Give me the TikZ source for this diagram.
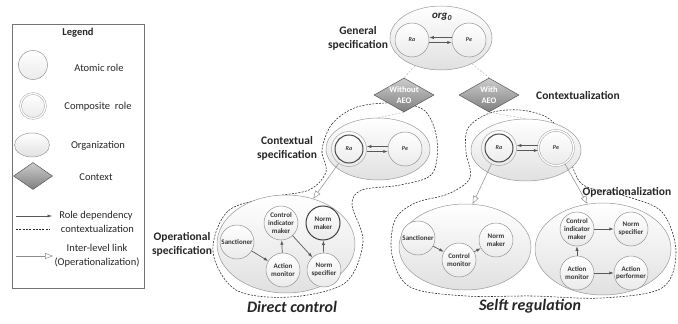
\documentclass[tikz,border=0pt]{standalone}
\usepackage{fontspec}
\setmainfont{Carlito}
\usetikzlibrary{shapes.geometric,arrows.meta}
\begin{document}
\begin{tikzpicture}[x=1pt,y=-1pt]
\tikzset{
 role/.style={circle, draw=black!42, line width=0.5pt, top color=white, bottom color=black!8, minimum size=34pt, inner sep=0pt, font=\fontsize{7}{7.6}\selectfont\bfseries, text=black!78, align=center},
 crole/.style={role, minimum size=35pt, double=white, double distance=1.3pt, draw=black!35},
 drole/.style={role, draw=black!75, line width=1pt},
 darkring/.style={draw=black!72, line width=1pt},
 small/.style={font=\fontsize{6}{6}\selectfont\bfseries\itshape},
 orgell/.style={ellipse, draw=black!40, line width=0.5pt, top color=white, bottom color=black!12, inner sep=0pt},
 ctx/.style={diamond, draw=black!65, line width=0.5pt, top color=black!20, bottom color=black!50, minimum width=60pt, minimum height=34pt, inner sep=0pt},
 ctxtext/.style={font=\fontsize{8.5}{10.5}\selectfont\bfseries, text=white, align=center},
 dep/.style={-{Latex[length=4.5pt,width=3.2pt]}, draw=black!65, line width=0.7pt},
 inter/.style={-{Triangle[open,length=8pt,width=6pt]}, draw=black!45, line width=0.5pt},
 ctxline/.style={dash pattern=on 2pt off 1.3pt, draw=black!85, line width=0.55pt},
 gline/.style={draw=black!30, dash pattern=on 2pt off 1.5pt, line width=0.45pt},
 lbl/.style={font=\fontsize{11.5}{13.8}\selectfont\bfseries, text=black!85, align=center},
 ttl/.style={font=\fontsize{16}{18}\selectfont\bfseries\itshape, text=black!85},
 leg/.style={font=\fontsize{10.5}{14.5}\selectfont, text=black!85, align=center},
}
\useasboundingbox (0,0) rectangle (678,324);

% ---------------- Legend ----------------
\draw[draw=black!55, line width=0.6pt] (12,24) rectangle (144,288);
\node[font=\fontsize{10.5}{12}\selectfont\bfseries, text=black!85] (legt) at (78,33) {Legend};
\node[role, minimum size=29pt] (lat) at (33,65) {};
\node[leg] (latt) at (99,68) {Atomic role};
\node[crole, minimum size=25pt] (lco) at (33,106) {};
\node[leg] (lcot) at (98,107) {Composite\ \ role};
\node[orgell, minimum width=35pt, minimum height=24pt] (lor) at (32,145) {};
\node[leg] (lort) at (98,146) {Organization};
\node[ctx, minimum width=39pt, minimum height=27pt] (lcx) at (33,176) {};
\node[leg] (lcxt) at (96,177) {Context};
\coordinate (la1) at (16,216); \coordinate (lb1) at (52,216);
\draw[dep, line width=0.5pt] (la1) -- (lb1);
\node[leg] (ldep) at (96,216) {Role dependency};
\coordinate (la2) at (16,229); \coordinate (lb2) at (50,229);
\draw[ctxline] (la2) -- (lb2);
\node[leg] (lctx) at (97.5,229) {contextualization};
\coordinate (la3) at (16,256); \coordinate (lb3) at (53,256);
\draw[inter] (la3) -- (lb3);
\node[leg] (lint) at (97,255.5) {Inter-level link\\(Operationalization)};

% ---------------- contextualization blobs ----------------
\draw[ctxline] plot[smooth cycle, tension=0.55] coordinates {
 (322,150) (332,124) (357,107) (396,103) (425,111) (437,140) (432,174) (400,185) (362,190)
 (352,205) (363,242) (345,283) (290,297) (236,290) (213,252) (228,211) (272,197) (309,190) (326,172)};
\draw[ctxline] plot[smooth cycle, tension=0.55] coordinates {
 (468,128) (490,113) (520,110) (548,118) (566,140) (573,168) (585,186) (625,196) (662,212)
 (676,252) (662,288) (602,298) (532,296) (466,296) (410,287) (392,255) (395,220) (415,203)
 (448,194) (470,178) (466,152)};

% ---------------- General specification ----------------
\node[orgell, minimum width=102pt, minimum height=64pt] (org0) at (441,38) {};
\node[font=\fontsize{11}{12}\selectfont\bfseries\itshape, text=black!85] (orgt) at (442,17) {org\textsubscript{0}};
\node[role, small] (ra0) at (412,40) {Ra};
\node[role, small] (pe0) at (469,40) {Pe};
\draw[dep] ([yshift=2.5pt]pe0.west) -- ([yshift=2.5pt]ra0.east);
\draw[dep] ([yshift=-2.5pt]ra0.east) -- ([yshift=-2.5pt]pe0.west);
\node[lbl] (gs) at (358,38) {General\\specification};

% ---------------- contexts ----------------
\node[ctx] (d1) at (404,95) {};
\node[ctxtext] (d1t) at (d1) {Without\\AEO};
\node[ctx] (d2) at (489,95) {};
\node[ctxtext] (d2t) at (d2) {With\\AEO};
\draw[gline] (org0) -- (d1.north);
\draw[gline] (org0) -- (d2.north);
\node[lbl] (ctxz) at (578,95) {Contextualization};

% ---------------- Contextual specification (left) ----------------
\node[orgell, minimum width=104pt, minimum height=62pt] (c1) at (378,149) {};
\draw[gline] (d1.south) -- (c1.north);
\node[crole, small, double=none, draw=black!35] (ra1) at (349,149) {};
\draw[darkring] (ra1.center) circle[radius=14pt];
\node[small, text=black!78] (ra1t) at (ra1) {Ra};
\node[role, small] (pe1) at (405,149) {Pe};
\draw[dep] ([yshift=2.5pt]pe1.west) -- ([yshift=2.5pt]ra1.east);
\draw[dep] ([yshift=-2.5pt]ra1.east) -- ([yshift=-2.5pt]pe1.west);
\node[lbl] (cs) at (287,148.5) {Contextual\\specification};

% ---------------- Contextual (right) ----------------
\node[orgell, minimum width=110pt, minimum height=62pt] (c2) at (526,150) {};
\draw[gline] (d2.south) -- (c2.north);
\node[crole, small, double=none, draw=black!35] (ra2) at (499,148) {};
\draw[darkring] (ra2.center) circle[radius=14pt];
\node[small, text=black!78] (ra2t) at (ra2) {Ra};
\node[crole, small] (pe2) at (556,148) {Pe};
\draw[dep] ([yshift=2.5pt]pe2.west) -- ([yshift=2.5pt]ra2.east);
\draw[dep] ([yshift=-2.5pt]ra2.east) -- ([yshift=-2.5pt]pe2.west);
\node[lbl] (opz) at (627,192) {Operationalization};

% ---------------- Direct control ----------------
\node[orgell, minimum width=138pt, minimum height=98pt] (dc) at (286,244) {};
\node[role] (san1) at (237,242) {Sanctioner};
\node[role] (cim1) at (281,223) {Control\\indicator\\maker};
\node[drole] (nm1) at (323,223) {Norm\\maker};
\node[role] (am1) at (283,270) {Action\\monitor};
\node[role] (ns1) at (324,270) {Norm\\specifier};
\draw[dep] (san1) -- (am1);
\draw[dep] (am1) -- (cim1);
\draw[dep] (cim1) -- (ns1);
\draw[dep] (ns1) -- (nm1);
\draw[inter] (ra1) -- (dc.59);
\node[lbl] (os) at (182,244.5) {Operational\\specification};
\node[ttl] (dct) at (292,307) {Direct control};

% ---------------- Selft regulation ----------------
\node[orgell, minimum width=132pt, minimum height=86pt] (se) at (465,247) {};
\node[role] (san2) at (418,238) {Sanctioner};
\node[role] (cm2) at (459,260) {Control\\monitor};
\node[role] (nm2) at (496,240) {Norm\\maker};
\draw[dep] (san2) -- (cm2);
\draw[dep] (cm2) -- (nm2);
\draw[inter] (ra2) -- (se.80);

\node[orgell, minimum width=136pt, minimum height=92pt] (op) at (603,249) {};
\node[role] (cim3) at (577,229) {Control\\indicator\\maker};
\node[role] (ns3) at (631,229) {Norm\\specifier};
\node[role] (am3) at (577,273) {Action\\monitor};
\node[role] (ap3) at (631,273) {Action\\performer};
\draw[dep] (cim3) -- (ns3);
\draw[dep] (am3) -- (cim3);
\draw[dep] (am3) -- (ap3);
\draw[inter] (pe2) -- (op.109);
\node[ttl] (srt) at (530,306) {Selft regulation};
\end{tikzpicture}
\end{document}
